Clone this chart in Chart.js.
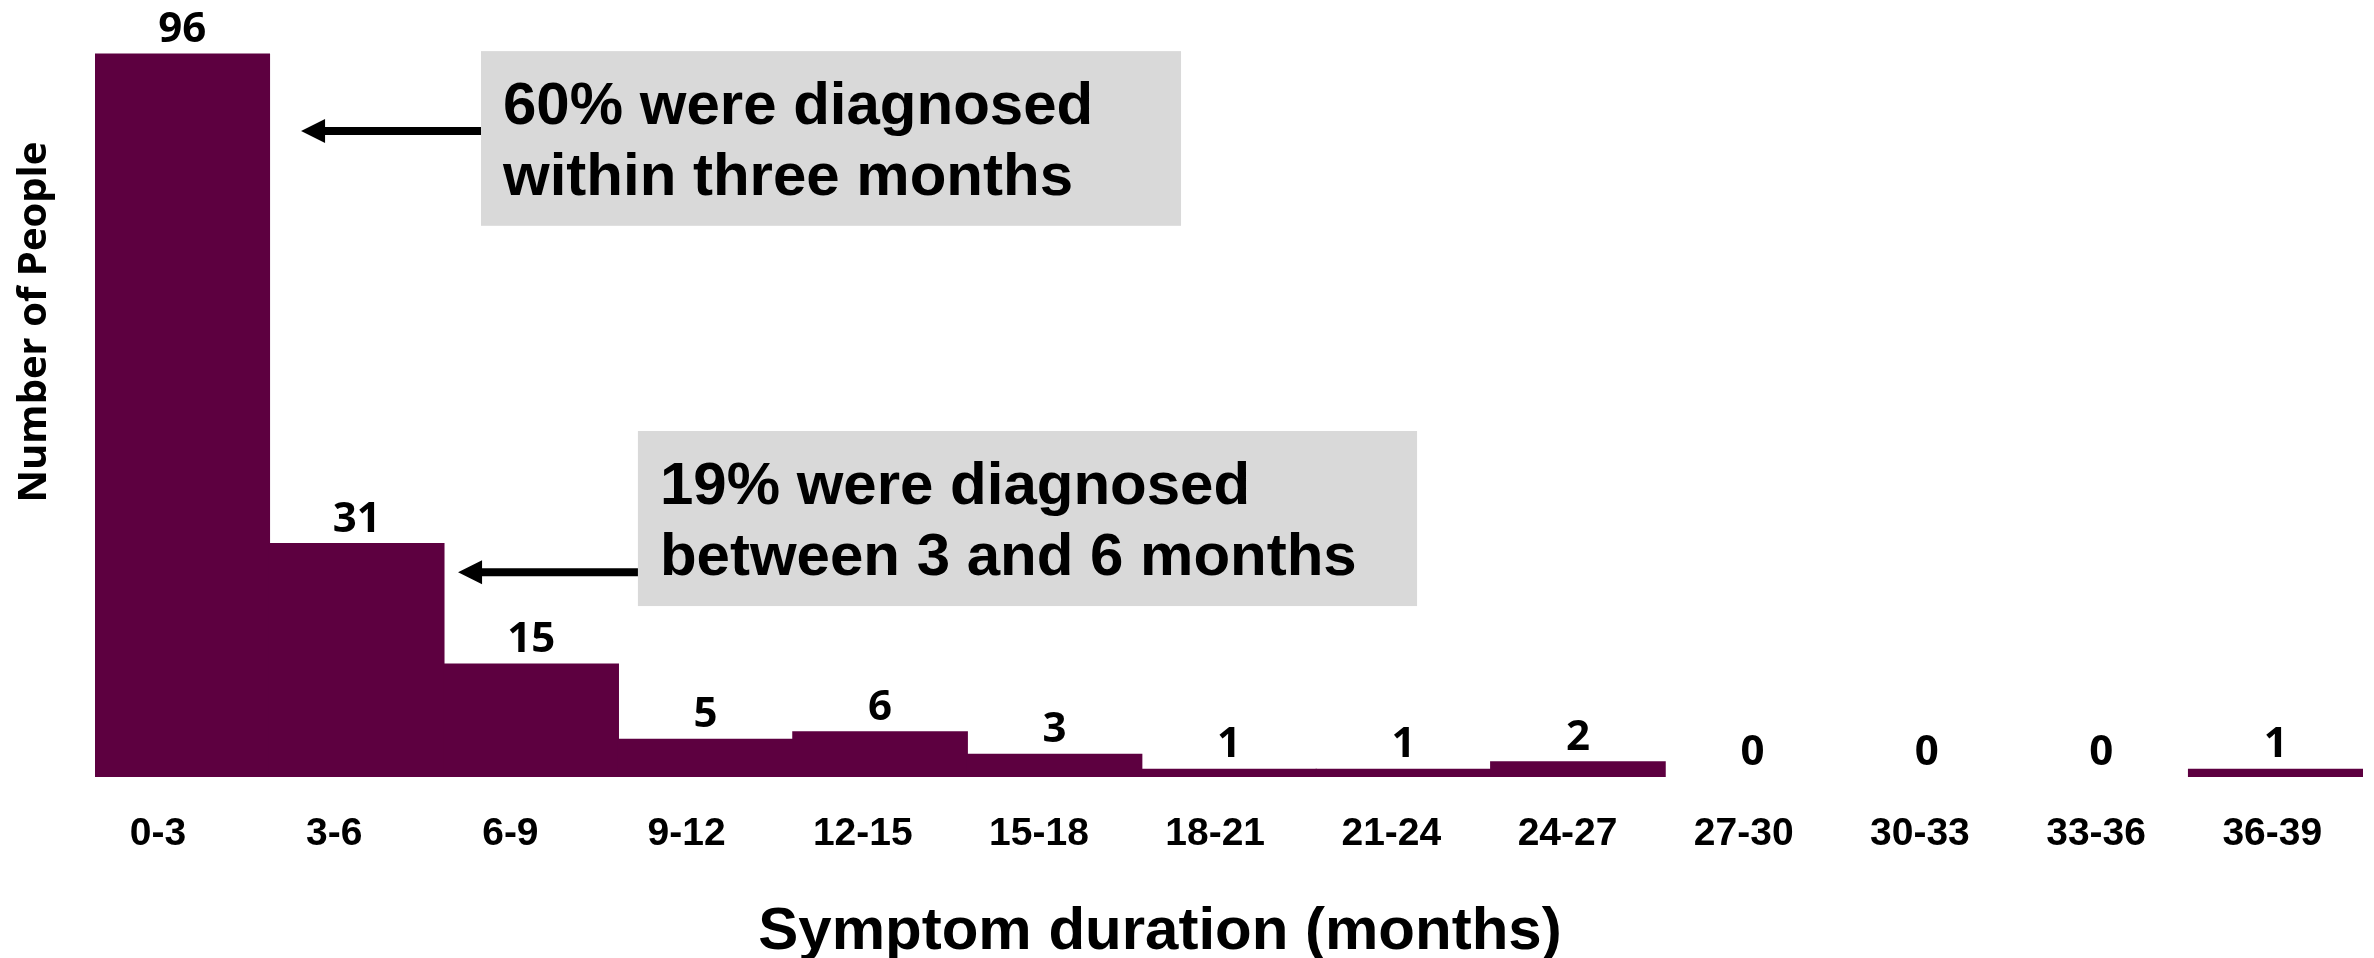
<!DOCTYPE html>
<html>
<head>
<meta charset="utf-8">
<title>Symptom duration before diagnosis</title>
<script src="https://cdn.jsdelivr.net/npm/chart.js@4.4.1/dist/chart.umd.min.js"></script>
<style>
  html, body { margin: 0; padding: 0; background: #ffffff; }
  #wrap { width: 2374px; height: 958px; }
</style>
</head>
<body>
<div id="wrap"><canvas id="chart" width="2374" height="958"></canvas></div>
<script>
// Symptom duration bins (months) and number of people in each bin
const durationBins = ['0-3', '3-6', '6-9', '9-12', '12-15', '15-18', '18-21', '21-24', '24-27', '27-30', '30-33', '33-36', '36-39'];
const peopleCounts = [96, 31, 15, 5, 6, 3, 1, 1, 2, 0, 0, 0, 1];

const xAxisTitle = 'Symptom duration (months)';
const yAxisTitle = 'Number of People';

const calloutLines = [
  ['60% were diagnosed', 'within three months'],
  ['19% were diagnosed', 'between 3 and 6 months']
];

// Callout boxes and arrows, placed in scale units (category index, count)
const calloutPlacement = [
  { x0: 1.7125, x1: 5.725, top: 96.4, bottom: 73.2, arrowY: 85.8, tip: 0.681 },
  { x0: 2.612, x1: 7.078, top: 45.95, bottom: 22.7, arrowY: 27.2, tip: 1.581 }
];

const BAR_COLOR = '#5D0040';
const ARIAL = "'Liberation Sans', Arial, sans-serif";

const valueLabels = {
  id: 'valueLabels',
  afterDatasetsDraw(chart) {
    const { ctx } = chart;
    const meta = chart.getDatasetMeta(0);
    ctx.save();
    ctx.fillStyle = '#000';
    ctx.font = "bold 42px 'Open Sans', Lato, sans-serif";
    ctx.textAlign = 'center';
    ctx.textBaseline = 'alphabetic';
    meta.data.forEach((bar, i) => {
      ctx.fillText(String(peopleCounts[i]), bar.x, bar.y - 12);
    });
    ctx.restore();
  }
};

const callouts = {
  id: 'callouts',
  afterDatasetsDraw(chart) {
    const { ctx } = chart;
    const xs = chart.scales.x, ys = chart.scales.y;
    ctx.save();
    calloutPlacement.forEach((c, k) => {
      const left = xs.getPixelForValue(c.x0);
      const right = xs.getPixelForValue(c.x1);
      const top = ys.getPixelForValue(c.top);
      const bottom = ys.getPixelForValue(c.bottom);
      ctx.fillStyle = '#D9D9D9';
      ctx.fillRect(left, top, right - left, bottom - top);

      ctx.fillStyle = '#000';
      ctx.font = 'bold 60px ' + ARIAL;
      ctx.textAlign = 'left';
      ctx.textBaseline = 'alphabetic';
      calloutLines[k].forEach((line, j) => {
        ctx.fillText(line, left + 22, top + 73 + j * 71);
      });

      // arrow pointing from the box towards the bar
      const ay = ys.getPixelForValue(c.arrowY);
      const tip = xs.getPixelForValue(c.tip);
      const head = 24;
      ctx.strokeStyle = '#000';
      ctx.lineWidth = 8;
      ctx.beginPath();
      ctx.moveTo(left, ay);
      ctx.lineTo(tip + head - 1, ay);
      ctx.stroke();
      ctx.beginPath();
      ctx.moveTo(tip, ay);
      ctx.lineTo(tip + head, ay - 12);
      ctx.lineTo(tip + head, ay + 12);
      ctx.closePath();
      ctx.fill();
    });
    ctx.restore();
  }
};

const axisTitles = {
  id: 'axisTitles',
  afterDraw(chart) {
    const { ctx } = chart;
    ctx.save();
    ctx.fillStyle = '#000';
    ctx.textAlign = 'center';
    ctx.textBaseline = 'alphabetic';
    ctx.font = 'bold 60px ' + ARIAL;
    ctx.fillText(xAxisTitle, 1160, 949);

    ctx.font = "bold 40px 'Open Sans', sans-serif";
    ctx.translate(46, 322);
    ctx.rotate(-Math.PI / 2);
    ctx.fillText(yAxisTitle, 0, 0);
    ctx.restore();
  }
};

new Chart(document.getElementById('chart'), {
  type: 'bar',
  data: {
    labels: durationBins,
    datasets: [{
      data: peopleCounts,
      backgroundColor: BAR_COLOR,
      borderWidth: 0,
      // slight overlap hides seams between touching bars; empty bins stay blank
      inflateAmount: ctx => (ctx.raw > 0 ? 0.6 : 0),
      barPercentage: 1,
      categoryPercentage: 1,
      xAxisID: 'x',
      yAxisID: 'y'
    }]
  },
  options: {
    responsive: false,
    animation: false,
    devicePixelRatio: 1,
    layout: { padding: { left: 95, right: 11, top: 24, bottom: 0 } },
    plugins: { legend: { display: false }, tooltip: { enabled: false } },
    scales: {
      x: { type: 'category', display: false, offset: true },
      // tick label row, spaced a little wider than the bars
      xLabels: {
        type: 'linear',
        position: 'bottom',
        offset: false,
        min: -0.3576,
        max: 12.515,
        grid: { display: false, offset: false },
        border: { display: false },
        afterBuildTicks: s => { s.ticks = durationBins.map((_, i) => ({ value: i })); },
        afterFit: s => { s.height = 181; },
        ticks: {
          autoSkip: false,
          maxRotation: 0,
          padding: 30,
          color: '#000',
          font: { family: ARIAL, size: 39, weight: 'bold', lineHeight: 1 },
          callback: v => durationBins[v]
        }
      },
      y: { min: 0, max: 100, display: false }
    }
  },
  plugins: [valueLabels, callouts, axisTitles]
});
</script>
</body>
</html>
